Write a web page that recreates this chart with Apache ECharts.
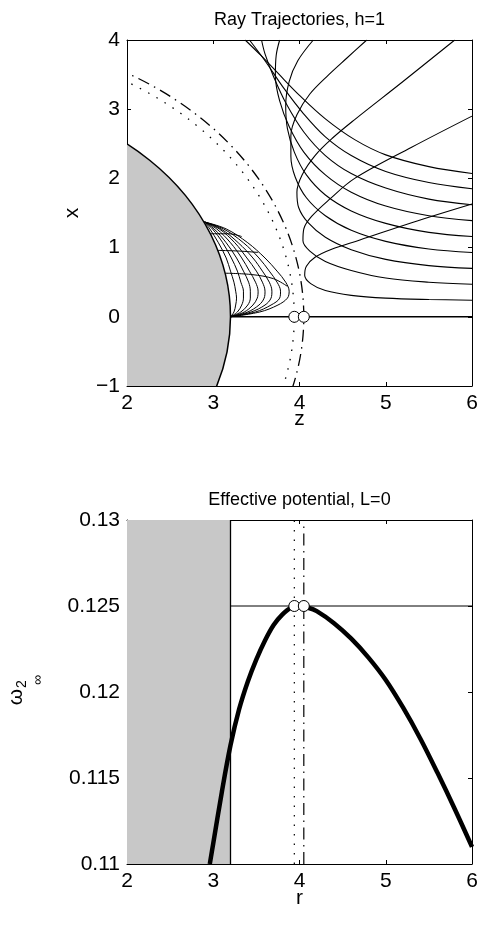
<!DOCTYPE html>
<html>
<head>
<meta charset="utf-8">
<script src="https://cdn.jsdelivr.net/npm/echarts@6/dist/echarts.min.js"></script>
<style>
html, body { margin: 0; padding: 0; background: #fff; }
#main { width: 478px; height: 926px; }
</style>
</head>
<body>
<div id="main"></div>
<script>
// ---- top panel: ray trajectories (z, x) ----
const horizonR = 3.2;
const dottedR = 3.94;
const dashDotR = 4.05;
const photonZ = [3.94, 4.05];
const axisRay = [[3.2, 0], [6, 0]];

// rays coming in from the right and scattered
const escRays = [
  [[6,0.24],[5.5,0.25],[5.0,0.27],[4.6,0.31],[4.3,0.38],[4.13,0.48],[4.06,0.6],[4.08,0.73],[4.18,0.86],[4.38,0.98],[4.7,1.11],[5.3,1.36],[6,1.63]],
  [[6,0.47],[5.5,0.5],[5.0,0.56],[4.6,0.67],[4.3,0.8],[4.12,0.95],[4.04,1.1],[4.05,1.27],[4.14,1.45],[4.35,1.7],[4.64,2.0],[5.3,2.45],[6,2.9]],
  [[6,0.7],[5.5,0.74],[5.0,0.83],[4.6,0.97],[4.3,1.15],[4.1,1.36],[3.99,1.58],[3.97,1.8],[4.03,2.05],[4.18,2.33],[4.38,2.58],[4.64,2.85],[5.2,3.4],[5.8,4.0]],
  [[6,0.93],[5.5,0.98],[5.0,1.09],[4.6,1.25],[4.3,1.46],[4.08,1.72],[3.95,2.02],[3.9,2.32],[3.9,2.62],[3.97,2.92],[4.12,3.22],[4.34,3.5],[4.55,3.74],[4.78,4.0]],
  [[6,1.16],[5.5,1.22],[5.0,1.35],[4.6,1.53],[4.3,1.76],[4.08,2.05],[3.94,2.38],[3.86,2.72],[3.84,3.05],[3.88,3.4],[3.98,3.7],[4.16,4.0]],
  [[6,1.39],[5.5,1.46],[5.0,1.6],[4.6,1.8],[4.3,2.05],[4.05,2.38],[3.88,2.75],[3.77,3.12],[3.72,3.48],[3.73,3.78],[3.77,4.0]],
  [[6,1.62],[5.5,1.7],[5.0,1.86],[4.6,2.07],[4.3,2.33],[4.05,2.67],[3.85,3.07],[3.7,3.47],[3.6,3.8],[3.56,4.0]],
  [[6,1.85],[5.5,1.94],[5.0,2.1],[4.6,2.33],[4.3,2.6],[4.05,2.93],[3.82,3.3],[3.6,3.7],[3.42,4.0]],
  [[6,2.07],[5.5,2.17],[5.0,2.34],[4.64,2.56],[4.3,2.86],[4.0,3.2],[3.75,3.52],[3.55,3.78],[3.37,4.0]]
];

// rays that fall back onto the horizon
const capRays = [
  [[3.2,0],[3.24,0.07],[3.26,0.17],[3.27,0.27],[3.26,0.37],[3.24,0.5],[3.2,0.66],[3.15,0.85],[3.06,1.07],[2.96,1.27],[2.9,1.37]],
  [[3.2,0],[3.28,0.07],[3.33,0.17],[3.35,0.27],[3.35,0.37],[3.32,0.5],[3.28,0.66],[3.21,0.85],[3.11,1.07],[2.99,1.27],[2.9,1.37]],
  [[3.2,0],[3.32,0.07],[3.4,0.17],[3.43,0.27],[3.43,0.37],[3.41,0.5],[3.35,0.66],[3.27,0.85],[3.15,1.07],[3.01,1.27],[2.9,1.37]],
  [[3.2,0],[3.36,0.07],[3.46,0.17],[3.51,0.27],[3.52,0.37],[3.49,0.5],[3.42,0.66],[3.33,0.85],[3.2,1.07],[3.04,1.27],[2.9,1.37]],
  [[3.2,0],[3.4,0.07],[3.53,0.17],[3.59,0.27],[3.6,0.37],[3.57,0.5],[3.5,0.66],[3.39,0.85],[3.25,1.07],[3.07,1.27],[2.9,1.37]],
  [[3.2,0],[3.44,0.07],[3.6,0.17],[3.67,0.27],[3.68,0.37],[3.65,0.5],[3.57,0.66],[3.46,0.85],[3.29,1.07],[3.09,1.27],[2.9,1.37]],
  [[3.2,0],[3.49,0.07],[3.67,0.17],[3.77,0.27],[3.78,0.37],[3.74,0.5],[3.65,0.66],[3.53,0.85],[3.35,1.07],[3.12,1.27],[2.9,1.37]],
  [[3.2,0],[3.54,0.07],[3.75,0.17],[3.86,0.27],[3.88,0.37],[3.84,0.5],[3.74,0.66],[3.6,0.85],[3.4,1.07],[3.15,1.27],[2.9,1.37]]
];
const capCross = [
  [[3.14,0.63],[3.45,0.61],[3.7,0.55],[3.86,0.44]],
  [[3.05,0.96],[3.3,0.95],[3.52,0.93]],
  [[2.97,1.2],[3.18,1.2],[3.33,1.16]]
];

// ---- bottom panel: effective potential ----
const rVals = [2.96, 3.0, 3.1, 3.2, 3.3, 3.4, 3.5, 3.6, 3.7, 3.8, 3.9, 4.0, 4.1, 4.2, 4.4, 4.6, 4.8, 5.0, 5.2, 5.4, 5.6, 5.8, 6.0];
const wVals = [0.1100, 0.1112, 0.1142, 0.1169, 0.1190, 0.1206, 0.1219, 0.1230, 0.1239, 0.1245, 0.1249, 0.1250, 0.1249, 0.1247, 0.1240, 0.1231, 0.1220, 0.1207, 0.1191, 0.1173, 0.1153, 0.1132, 0.1110];
const peakW = 0.125;

const FONT = '"Liberation Sans", Arial, sans-serif';
const chart = echarts.init(document.getElementById('main'), null, { renderer: 'canvas' });

function axes(grid, min, max, interval, fmt, dir) {
  const pos = dir === 'x' ? ['bottom', 'top'] : ['left', 'right'];
  return pos.map((p, i) => ({
    type: 'value', gridIndex: grid, position: p, min, max, interval,
    axisLine: { show: true, onZero: false, lineStyle: { color: '#000', width: 1 } },
    axisTick: { show: true, inside: true, length: 4, lineStyle: { color: '#000' } },
    axisLabel: { show: i === 0, color: '#000', fontSize: 21, fontFamily: FONT, margin: 7, formatter: fmt },
    splitLine: { show: false }
  }));
}

function ring(r, style, z) {
  return {
    type: 'custom', xAxisIndex: 0, yAxisIndex: 0, clip: true, silent: true, z,
    data: [[0, 0, r]],
    renderItem(params, api) {
      const c = api.coord([api.value(0), api.value(1)]);
      const s = api.size([api.value(2), api.value(2)]);
      const rx = s[0], ry = s[1];
      const d = 'M' + (c[0] - rx) + ' ' + c[1] +
        ' A' + rx + ' ' + ry + ' 0 1 1 ' + (c[0] + rx) + ' ' + c[1] +
        ' A' + rx + ' ' + ry + ' 0 1 1 ' + (c[0] - rx) + ' ' + c[1] + ' Z';
      return { type: 'path', shape: { pathData: d }, style };
    }
  };
}

function line(data, width, xi, yi, type, z) {
  return {
    type: 'line', xAxisIndex: xi, yAxisIndex: yi, data, symbol: 'none', silent: true,
    smooth: data.length > 2 ? 0.35 : false, z: z || 3,
    lineStyle: { color: '#000', width, type: type || 'solid' }
  };
}

function markers(data, xi, yi) {
  return {
    type: 'scatter', xAxisIndex: xi, yAxisIndex: yi, silent: true, z: 6,
    data, symbol: 'circle', symbolSize: 11,
    itemStyle: { color: '#fff', opacity: 1, borderColor: '#000', borderWidth: 1 }
  };
}

const series = [];
series.push(ring(horizonR, { fill: '#c8c8c8', stroke: '#000', lineWidth: 1.5 }, 1));
series.push(ring(dottedR, { fill: 'none', stroke: '#000', lineWidth: 1.3, lineDash: [1.5, 8] }, 2));
series.push(ring(dashDotR, { fill: 'none', stroke: '#000', lineWidth: 1.3, lineDash: [12, 5.5, 1.5, 5.5] }, 2));
escRays.forEach(r => series.push(line(r, 1.1, 0, 0)));
capRays.forEach(r => series.push(line(r, 1, 0, 0)));
capCross.forEach(r => series.push(line(r, 1, 0, 0)));
series.push(line(axisRay, 1.6, 0, 0));
series.push(markers(photonZ.map(z => [z, 0]), 0, 0));

// bottom panel
series.push({
  type: 'custom', xAxisIndex: 2, yAxisIndex: 2, silent: true, z: 1,
  data: [[2, horizonR]],
  renderItem(params, api) {
    const a = api.coord([api.value(0), 0.13]);
    const b = api.coord([api.value(1), 0.11]);
    return { type: 'rect', shape: { x: a[0], y: a[1], width: b[0] - a[0], height: b[1] - a[1] }, style: { fill: '#c8c8c8' } };
  }
});
series.push(line([[horizonR, 0.11], [horizonR, 0.13]], 1.3, 2, 2));
series.push(line([[horizonR, peakW], [6, peakW]], 1, 2, 2));
series.push(line([[photonZ[0], 0.11], [photonZ[0], 0.13]], 1.2, 2, 2, [1.5, 8]));
series.push(line([[photonZ[1], 0.11], [photonZ[1], 0.13]], 1.2, 2, 2, [12, 5.5, 1.5, 5.5]));
series.push(line(rVals.map((r, i) => [r, wVals[i]]), 4.5, 2, 2, 'solid', 4));
series.push(markers(photonZ.map(z => [z, peakW]), 2, 2));

const txt = (x, y, text, size, rot) => ({
  type: 'text', x, y, rotation: rot || 0, silent: true,
  style: { text, font: size + 'px ' + FONT, fill: '#000', textAlign: 'center', textVerticalAlign: 'middle' }
});

chart.setOption({
  animation: false,
  backgroundColor: '#fff',
  grid: [
    { left: 127, top: 40, width: 345, height: 346, outerBoundsMode: 'none' },
    { left: 127, top: 520, width: 345, height: 344, outerBoundsMode: 'none' }
  ],
  xAxis: [
    ...axes(0, 2, 6, 1, null, 'x'),
    ...axes(1, 2, 6, 1, null, 'x')
  ],
  yAxis: [
    ...axes(0, -1, 4, 1, v => String(v).replace('-', '\u2212'), 'y'),
    ...axes(1, 0.11, 0.13, 0.005, v => String(+v.toFixed(3)), 'y')
  ],
  series,
  graphic: [
    txt(299.5, 20, 'Ray Trajectories, h=1', 18),
    txt(299.5, 500, 'Effective potential, L=0', 18),
    txt(299.5, 419, 'z', 21),
    txt(72, 213, 'x', 21, Math.PI / 2),
    txt(299.5, 898, 'r', 21),
    txt(16, 697, '\u03c9', 21, Math.PI / 2),
    txt(22, 684, '2', 14, Math.PI / 2),
    txt(38, 680, '\u221e', 14, Math.PI / 2)
  ]
});
</script>
</body>
</html>
